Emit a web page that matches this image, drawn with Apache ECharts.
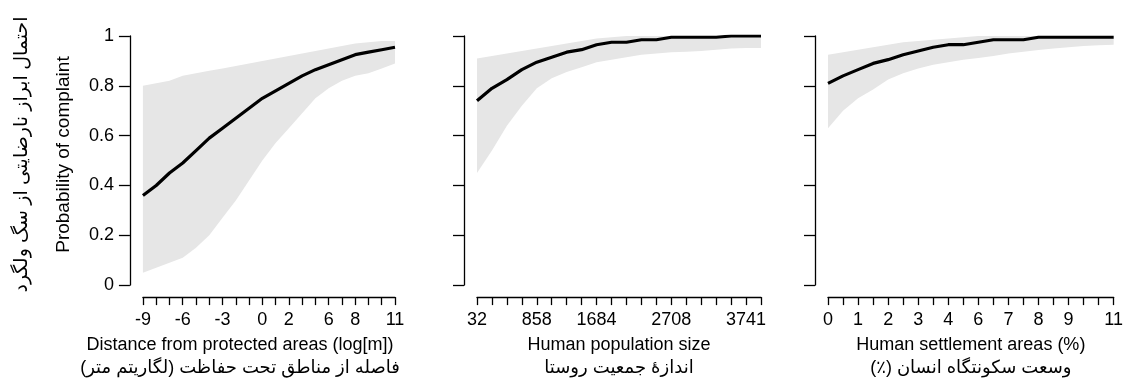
<!DOCTYPE html>
<html>
<head>
<meta charset="utf-8">
<script src="https://cdn.jsdelivr.net/npm/echarts@6/dist/echarts.min.js"></script>
<style>
  html, body { margin: 0; padding: 0; background: #fff; }
  #chart { width: 1126px; height: 385px; }
</style>
</head>
<body>
<div id="chart"></div>
<script>
  // tick labels (20 ticks per panel, blank = unlabeled tick)
  var distLabels = ['-9','','','-6','','','-3','','','0','','2','','','6','','8','','','11'];
  var popLabels  = ['32','','','','858','','','','1684','','','','','2708','','','','','3741',''];
  var settLabels = ['0','','1','','2','','3','','4','','6','','7','','8','','9','','','11'];

  // distance from protected areas
  var distFit  = [0.36,0.40,0.45,0.49,0.54,0.59,0.63,0.67,0.71,0.75,0.78,0.81,0.84,0.865,0.885,0.905,0.925,0.935,0.945,0.955];
  var distLow  = [0.05,0.07,0.09,0.11,0.15,0.20,0.27,0.34,0.42,0.50,0.57,0.63,0.69,0.75,0.79,0.82,0.84,0.85,0.87,0.89];
  var distHigh = [0.80,0.81,0.82,0.84,0.85,0.86,0.87,0.88,0.89,0.90,0.91,0.92,0.93,0.94,0.95,0.96,0.97,0.975,0.98,0.98];

  // human population size
  var popFit  = [0.74,0.79,0.825,0.865,0.895,0.915,0.935,0.945,0.965,0.975,0.975,0.985,0.985,0.995,0.995,0.995,0.995,1,1,1];
  var popLow  = [0.45,0.54,0.64,0.72,0.79,0.83,0.855,0.875,0.895,0.905,0.915,0.925,0.93,0.935,0.937,0.94,0.945,0.95,0.952,0.952];
  var popHigh = [0.91,0.92,0.93,0.94,0.95,0.96,0.97,0.98,0.99,0.995,1,1,1,1,1,1,1,1,1,1];

  // human settlement areas
  var settFit  = [0.81,0.84,0.865,0.89,0.905,0.925,0.94,0.955,0.965,0.965,0.975,0.985,0.985,0.985,0.995,0.995,0.995,0.995,0.995,0.995];
  var settLow  = [0.63,0.70,0.75,0.785,0.825,0.85,0.87,0.885,0.895,0.905,0.912,0.92,0.93,0.937,0.944,0.95,0.955,0.96,0.963,0.965];
  var settHigh = [0.925,0.935,0.945,0.955,0.965,0.975,0.98,0.985,0.99,0.995,1,1,1,1,1,1,1,1,1,1];

  var RLM = '\u200F';
  var font = 'Liberation Sans, DejaVu Sans, sans-serif';

  var panels = [
    { left: 126, width: 269, labels: distLabels, fit: distFit, low: distLow, high: distHigh,
      name: 'Distance from protected areas (log[m])\n' + RLM + 'فاصله از مناطق تحت حفاظت (لگاریتم متر)' + RLM,
      namePad: [0, 58, 0, 0], yLabels: true },
    { left: 477, width: 284, labels: popLabels, fit: popFit, low: popLow, high: popHigh,
      name: 'Human population size\n' + RLM + 'اندازهٔ جمعیت روستا' + RLM,
      namePad: 0, yLabels: false },
    { left: 828, width: 287, labels: settLabels, fit: settFit, low: settLow, high: settHigh,
      name: 'Human settlement areas (%)\n' + RLM + 'وسعت سکونتگاه انسان (٪)' + RLM,
      namePad: 0, yLabels: false }
  ];

  var grids = [], xAxes = [], yAxes = [], series = [];

  panels.forEach(function (p, k) {
    grids.push({ left: p.left, width: p.width, top: 36, height: 251 });

    xAxes.push({
      gridIndex: k, type: 'category', data: p.labels, boundaryGap: false,
      offset: 12,
      axisLine: { show: true, onZero: false, lineStyle: { color: '#000', width: 1.3 } },
      axisTick: { show: true, interval: 0, length: 8, lineStyle: { color: '#000', width: 1.3 } },
      splitLine: { show: false },
      axisLabel: { interval: 0, margin: 14, color: '#000', fontSize: 18, fontFamily: font },
      name: p.name, nameLocation: 'middle', nameGap: 34,
      nameTextStyle: { color: '#000', fontSize: 18, fontFamily: font, lineHeight: 23, padding: p.namePad }
    });

    yAxes.push({
      gridIndex: k, type: 'value', min: 0, max: 1, interval: 0.2,
      offset: 13,
      axisLine: { show: true, onZero: false, lineStyle: { color: '#000', width: 1.3 } },
      axisTick: { show: true, length: 11, lineStyle: { color: '#000', width: 1.3 } },
      splitLine: { show: false },
      axisLabel: { show: p.yLabels, margin: 16, color: '#000', fontSize: 18, fontFamily: font },
      name: p.yLabels ? (RLM + 'احتمال ابراز نارضایتی از سگ ولگرد' + RLM + '\nProbability of complaint') : '',
      nameLocation: 'middle', nameGap: 30,
      nameTextStyle: { color: '#000', fontSize: 19, fontFamily: font, lineHeight: 42, padding: [0, 0, 0, 12] }
    });

    var stackId = 'band' + k;
    series.push({
      type: 'line', xAxisIndex: k, yAxisIndex: k, stack: stackId,
      data: p.low,
      showSymbol: false, lineStyle: { opacity: 0 }, silent: true
    });
    series.push({
      type: 'line', xAxisIndex: k, yAxisIndex: k, stack: stackId,
      data: p.high.map(function (v, i) { return +(v - p.low[i]).toFixed(4); }),
      showSymbol: false, lineStyle: { opacity: 0 },
      areaStyle: { color: '#e6e6e6', opacity: 1 }, silent: true
    });
    series.push({
      type: 'line', xAxisIndex: k, yAxisIndex: k,
      data: p.fit,
      showSymbol: false, lineStyle: { color: '#000', width: 3.2 }, silent: true
    });
  });

  var myChart = echarts.init(document.getElementById('chart'));
  var option = {
    backgroundColor: '#fff',
    animation: false,
    grid: grids,
    xAxis: xAxes,
    yAxis: yAxes,
    series: series
  };
  option && myChart.setOption(option);
</script>
</body>
</html>
